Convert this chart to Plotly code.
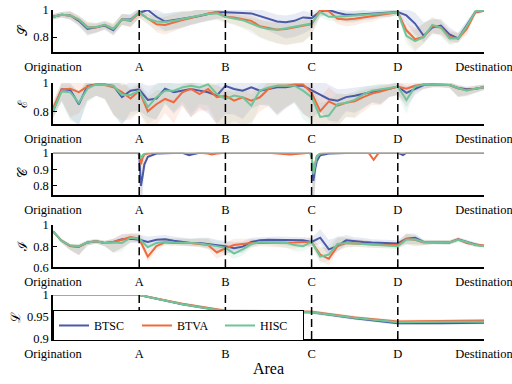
import plotly.graph_objects as go

# ---------------- data ----------------
TICK_POS = [0, 1, 2, 3, 4, 5]
TICK_TEXT = ["Origination", "A", "B", "C", "D", "Destination"]
MARKERS = [1, 2, 3, 4]  # dashed reference positions (A..D)
SERIES = ["BTSC", "BTVA", "HISC"]

X = [0.0, 0.1, 0.2, 0.3, 0.4, 0.5, 0.6, 0.7, 0.8, 0.9,
     1.0, 1.1, 1.2, 1.3, 1.4, 1.5, 1.6, 1.7, 1.8, 1.9,
     2.0, 2.1, 2.2, 2.3, 2.4, 2.5, 2.6, 2.7, 2.8, 2.9,
     3.0, 3.1, 3.2, 3.3, 3.4, 3.5, 3.6, 3.7, 3.8, 3.9,
     4.0, 4.1, 4.2, 4.3, 4.4, 4.5, 4.6, 4.7, 4.8, 4.9, 5.0]

# S panel
S_BTSC = [0.95, 0.965, 0.96, 0.92, 0.86, 0.87, 0.885, 0.85, 0.93, 0.93,
          0.98, 1.0, 0.95, 0.915, 0.925, 0.93, 0.94, 0.955, 0.97, 0.983,
          0.983, 0.983, 0.978, 0.975, 0.955, 0.935, 0.915, 0.91, 0.92, 0.945,
          0.94, 0.99, 1.0, 0.98, 0.965, 0.965, 0.97, 0.975, 0.978, 0.98,
          0.985, 0.96, 0.9, 0.81, 0.87, 0.885, 0.82, 0.79, 0.89, 0.985, 0.995]
S_BTVA = [0.95, 0.965, 0.96, 0.93, 0.875, 0.87, 0.89, 0.86, 0.93, 0.92,
          0.98, 0.94, 0.895, 0.89, 0.91, 0.925, 0.94, 0.96, 0.975, 0.985,
          0.95, 0.945, 0.935, 0.92, 0.88, 0.865, 0.855, 0.86, 0.87, 0.88,
          0.895, 1.0, 0.99, 0.935, 0.93, 0.935, 0.945, 0.955, 0.965, 0.975,
          0.983, 0.85, 0.785, 0.8, 0.88, 0.87, 0.80, 0.79, 0.86, 0.985, 0.995]
S_HISC = [0.95, 0.965, 0.96, 0.93, 0.87, 0.875, 0.89, 0.86, 0.93, 0.925,
          0.985, 0.935, 0.915, 0.912, 0.92, 0.935, 0.945, 0.96, 0.97, 0.975,
          0.95, 0.94, 0.925, 0.9, 0.875, 0.86, 0.855, 0.865, 0.875, 0.885,
          0.9, 0.985, 0.95, 0.95, 0.955, 0.96, 0.965, 0.97, 0.975, 0.98,
          0.983, 0.81, 0.77, 0.80, 0.89, 0.87, 0.79, 0.79, 0.88, 0.99, 0.997]
S_LO = [0.02, 0.02, 0.03, 0.04, 0.05, 0.04, 0.03, 0.04, 0.04, 0.05,
        0.04, 0.04, 0.06, 0.07, 0.07, 0.06, 0.05, 0.05, 0.05, 0.05,
        0.04, 0.05, 0.06, 0.07, 0.08, 0.09, 0.1, 0.12, 0.12, 0.12,
        0.08, 0.04, 0.03, 0.04, 0.05, 0.05, 0.04, 0.04, 0.03, 0.03,
        0.02, 0.06, 0.08, 0.05, 0.05, 0.06, 0.05, 0.03, 0.04, 0.02, 0.01]
S_HI = [0.02, 0.02, 0.03, 0.03, 0.04, 0.03, 0.03, 0.04, 0.04, 0.04,
        0.03, 0.03, 0.05, 0.06, 0.06, 0.06, 0.05, 0.05, 0.04, 0.03,
        0.03, 0.03, 0.03, 0.04, 0.05, 0.05, 0.05, 0.05, 0.05, 0.05,
        0.04, 0.02, 0.02, 0.03, 0.03, 0.03, 0.03, 0.02, 0.02, 0.02,
        0.02, 0.05, 0.08, 0.1, 0.06, 0.05, 0.05, 0.04, 0.03, 0.02, 0.01]

# E panel
E_BTSC = [0.80, 0.955, 0.95, 0.85, 0.98, 0.99, 0.99, 0.98, 0.9, 0.945,
          0.955, 0.88, 0.89, 0.96, 0.935, 0.946, 0.958, 0.946, 0.934, 0.911,
          0.98, 0.958, 0.946, 0.969, 0.946, 0.958, 0.969, 0.969, 0.981, 0.981,
          0.95, 0.92, 0.885, 0.875, 0.9, 0.91, 0.925, 0.94, 0.95, 0.96,
          0.975, 0.93, 0.955, 0.985, 0.99, 0.99, 0.985, 0.965, 0.955, 0.96, 0.97]
E_BTVA = [0.82, 0.955, 0.96, 0.935, 0.975, 0.99, 0.985, 0.97, 0.935, 0.89,
          0.945, 0.80, 0.85, 0.887, 0.864, 0.934, 0.958, 0.922, 0.958, 0.9,
          0.91, 0.875, 0.899, 0.875, 0.899, 0.958, 0.981, 0.981, 0.99, 0.99,
          0.93, 0.8, 0.87, 0.84, 0.86, 0.87, 0.9, 0.925, 0.94, 0.96,
          0.975, 0.96, 0.98, 0.99, 0.99, 0.99, 0.985, 0.96, 0.95, 0.96, 0.97]
E_HISC = [0.80, 0.94, 0.935, 0.86, 0.96, 0.99, 0.985, 0.98, 0.915, 0.915,
          0.945, 0.83, 0.9, 0.946, 0.946, 0.969, 0.981, 0.969, 0.99, 0.922,
          0.887, 0.911, 0.899, 0.84, 0.946, 0.969, 0.981, 0.981, 0.981, 0.946,
          0.90, 0.76, 0.77, 0.85, 0.86, 0.88, 0.92, 0.945, 0.955, 0.965,
          0.975, 0.88, 0.975, 0.99, 0.99, 0.99, 0.985, 0.965, 0.945, 0.96, 0.97]
E_LO = [0.05, 0.08, 0.2, 0.15, 0.1, 0.08, 0.1, 0.2, 0.2, 0.15,
        0.15, 0.12, 0.15, 0.1, 0.15, 0.1, 0.2, 0.12, 0.15, 0.2,
        0.2, 0.18, 0.2, 0.15, 0.1, 0.12, 0.2, 0.15, 0.12, 0.2,
        0.2, 0.12, 0.15, 0.15, 0.1, 0.12, 0.1, 0.08, 0.1, 0.06,
        0.06, 0.1, 0.04, 0.03, 0.02, 0.02, 0.02, 0.06, 0.04, 0.03, 0.02]
E_HI = [0.05, 0.05, 0.05, 0.08, 0.05, 0.05, 0.05, 0.05, 0.08, 0.06,
        0.05, 0.1, 0.1, 0.06, 0.06, 0.05, 0.05, 0.05, 0.05, 0.08,
        0.05, 0.06, 0.06, 0.08, 0.05, 0.05, 0.05, 0.05, 0.05, 0.05,
        0.06, 0.1, 0.1, 0.08, 0.06, 0.06, 0.05, 0.04, 0.04, 0.03,
        0.03, 0.05, 0.03, 0.02, 0.02, 0.02, 0.02, 0.02, 0.02, 0.02, 0.02]

# C panel (finer sampling near the sharp drops)
CX = [0.0, 0.5, 0.98, 1.0, 1.02, 1.04, 1.06, 1.1, 1.2, 1.5, 1.58, 1.62,
      1.7, 1.8, 1.84, 1.9, 2.0, 2.5, 2.75, 2.98, 3.0, 3.02, 3.04, 3.06,
      3.1, 3.2, 3.5, 3.66, 3.72, 3.78, 4.0, 4.06, 4.1, 4.5, 5.0]
C_BTSC = [1, 1, 1, 0.99, 0.80, 0.86, 0.93, 0.975, 0.995, 1, 0.985, 0.99,
          1, 1, 0.995, 1, 1, 1, 1, 1, 0.99, 0.83, 0.90, 0.95,
          0.985, 0.995, 1, 1, 1, 1, 1, 0.985, 1, 1, 1]
C_BTVA = [1, 1, 1, 0.99, 0.93, 0.97, 0.99, 0.995, 1, 1, 1, 1,
          1, 0.995, 0.99, 0.995, 1, 1, 0.99, 1, 0.98, 0.88, 0.94, 0.98,
          0.995, 1, 1, 1, 0.957, 1, 1, 1, 1, 1, 1]
C_HISC = [1, 1, 1, 0.995, 0.965, 0.985, 0.995, 1, 1, 1, 1, 1,
          1, 1, 1, 1, 1, 1, 1, 1, 0.98, 0.87, 0.93, 0.975,
          0.995, 1, 1, 1, 1, 1, 1, 1, 1, 1, 1]
C_LO = [0.003, 0.003, 0.003, 0.01, 0.25, 0.12, 0.04, 0.01, 0.005, 0.003, 0.005, 0.005,
        0.003, 0.005, 0.005, 0.005, 0.003, 0.003, 0.005, 0.003, 0.02, 0.25, 0.12, 0.04,
        0.01, 0.005, 0.003, 0.003, 0.01, 0.003, 0.003, 0.005, 0.003, 0.003, 0.003]
C_HI = [0.003] * 35

# I panel
I_BTSC = [0.94, 0.85, 0.8, 0.795, 0.835, 0.845, 0.83, 0.84, 0.865, 0.87,
          0.86, 0.84, 0.86, 0.865, 0.85, 0.84, 0.83, 0.83, 0.82, 0.81,
          0.80, 0.78, 0.795, 0.84, 0.855, 0.86, 0.86, 0.858, 0.858, 0.855,
          0.84, 0.88, 0.77, 0.80, 0.855, 0.845, 0.84, 0.835, 0.83, 0.83,
          0.826, 0.87, 0.88, 0.84, 0.84, 0.835, 0.835, 0.865, 0.84, 0.815, 0.80]
I_BTVA = [0.94, 0.85, 0.8, 0.795, 0.835, 0.845, 0.83, 0.84, 0.86, 0.885,
          0.87, 0.70, 0.8, 0.835, 0.83, 0.83, 0.83, 0.82, 0.81, 0.74,
          0.78, 0.81, 0.82, 0.83, 0.83, 0.83, 0.83, 0.835, 0.835, 0.84,
          0.84, 0.72, 0.68, 0.8, 0.83, 0.825, 0.82, 0.815, 0.81, 0.81,
          0.81, 0.87, 0.86, 0.835, 0.835, 0.835, 0.835, 0.865, 0.83, 0.815, 0.805]
I_HISC = [0.94, 0.85, 0.805, 0.80, 0.835, 0.845, 0.83, 0.835, 0.83, 0.88,
          0.87, 0.79, 0.83, 0.84, 0.835, 0.835, 0.83, 0.825, 0.815, 0.8,
          0.785, 0.73, 0.77, 0.82, 0.84, 0.84, 0.84, 0.835, 0.81, 0.8,
          0.84, 0.70, 0.72, 0.82, 0.83, 0.825, 0.82, 0.815, 0.81, 0.805,
          0.80, 0.86, 0.865, 0.84, 0.838, 0.835, 0.835, 0.86, 0.84, 0.81, 0.80]
I_LO = [0.01, 0.02, 0.04, 0.08, 0.03, 0.02, 0.03, 0.1, 0.08, 0.04,
        0.03, 0.05, 0.04, 0.03, 0.03, 0.03, 0.03, 0.03, 0.04, 0.06,
        0.06, 0.05, 0.06, 0.04, 0.03, 0.03, 0.04, 0.05, 0.06, 0.05,
        0.04, 0.06, 0.06, 0.05, 0.04, 0.03, 0.03, 0.03, 0.03, 0.03,
        0.03, 0.05, 0.06, 0.03, 0.02, 0.02, 0.02, 0.02, 0.02, 0.02, 0.01]
I_HI = [0.01, 0.02, 0.02, 0.02, 0.02, 0.02, 0.02, 0.03, 0.05, 0.04,
        0.05, 0.05, 0.04, 0.04, 0.04, 0.04, 0.04, 0.05, 0.06, 0.05,
        0.05, 0.06, 0.05, 0.04, 0.03, 0.03, 0.03, 0.03, 0.03, 0.03,
        0.04, 0.08, 0.09, 0.08, 0.05, 0.04, 0.04, 0.03, 0.03, 0.03,
        0.03, 0.05, 0.04, 0.02, 0.02, 0.02, 0.02, 0.02, 0.02, 0.02, 0.01]

# L panel
LX = [0.0, 0.5, 1.0, 1.5, 2.0, 2.5, 3.0, 3.5, 4.0, 4.5, 5.0]
L_BTSC = [1, 1, 1, 0.979, 0.963, 0.962, 0.961, 0.947, 0.936, 0.936, 0.937]
L_BTVA = [1, 1, 1, 0.98, 0.964, 0.963, 0.962, 0.949, 0.94, 0.941, 0.942]
L_HISC = [1, 1, 1, 0.979, 0.963, 0.962, 0.961, 0.948, 0.938, 0.939, 0.939]
L_LO = [0.0005, 0.0005, 0.001, 0.003, 0.004, 0.004, 0.004, 0.004, 0.004, 0.004, 0.004]
L_HI = L_LO

# ---------------- styling ----------------
LINE_COLORS = ["#4a5aa8", "#ef6a3c", "#70c49a"]
BAND_COLORS = ["rgba(74,90,168,0.12)", "rgba(239,106,60,0.12)", "rgba(112,196,154,0.12)"]
FONT = "Liberation Serif"
MATHFONT = "DejaVu Serif"

panels = [
    dict(x=X, ys=[S_BTSC, S_BTVA, S_HISC], lo=S_LO, hi=S_HI, label="𝒮",
         rng=[0.69, 1.0], tv=[0.8, 1.0], tt=["0.8", "1"], dom=[0.8697, 0.997]),
    dict(x=X, ys=[E_BTSC, E_BTVA, E_HISC], lo=E_LO, hi=E_HI, label="ℰ",
         rng=[0.71, 1.0], tv=[0.8, 1.0], tt=["0.8", "1"], dom=[0.6515, 0.7758]),
    dict(x=CX, ys=[C_BTSC, C_BTVA, C_HISC], lo=C_LO, hi=C_HI, label="𝒞",
         rng=[0.745, 1.0], tv=[0.8, 0.9, 1.0], tt=["0.8", "0.9", "1"], dom=[0.4364, 0.5645]),
    dict(x=X, ys=[I_BTSC, I_BTVA, I_HISC], lo=I_LO, hi=I_HI, label="ℐ",
         rng=[0.6, 1.0], tv=[0.6, 0.8, 1.0], tt=["0.6", "0.8", "1"], dom=[0.2173, 0.3455]),
    dict(x=LX, ys=[L_BTSC, L_BTVA, L_HISC], lo=L_LO, hi=L_HI, label="ℒ",
         rng=[0.9, 1.0], tv=[0.9, 0.95, 1.0], tt=["0.9", "0.95", "1"], dom=[0.0, 0.1333]),
]

fig = go.Figure()
shapes = []
layout_axes = {}
for i, p in enumerate(panels):
    n = i + 1
    xa = "x" if n == 1 else f"x{n}"
    ya = "y" if n == 1 else f"y{n}"
    for k in range(3):
        vals = p["ys"][k]
        up = [v + h for v, h in zip(vals, p["hi"])]
        dn = [v - l for v, l in zip(vals, p["lo"])]
        fig.add_trace(go.Scatter(
            x=list(p["x"]) + list(p["x"])[::-1], y=up + dn[::-1],
            fill="toself", fillcolor=BAND_COLORS[k], line=dict(width=0),
            mode="lines", hoverinfo="skip", showlegend=False, xaxis=xa, yaxis=ya))
    for k in range(3):
        fig.add_trace(go.Scatter(
            x=p["x"], y=p["ys"][k], mode="lines", name=SERIES[k],
            line=dict(color=LINE_COLORS[k], width=2),
            showlegend=(n == 5), xaxis=xa, yaxis=ya))
    for m in MARKERS:
        shapes.append(dict(type="line", xref=xa, yref=f"{ya} domain",
                           x0=m, x1=m, y0=0, y1=1,
                           line=dict(color="black", width=1.5, dash="8px,4px")))
    axkey = "xaxis" if n == 1 else f"xaxis{n}"
    aykey = "yaxis" if n == 1 else f"yaxis{n}"
    layout_axes[axkey] = dict(
        domain=[0, 1], range=[0, 5], anchor=ya, tickvals=TICK_POS, ticktext=TICK_TEXT,
        ticks="inside", ticklen=4, tickwidth=1, tickcolor="black", automargin=False,
        ticklabeloverflow="allow", ticklabelstandoff=2,
        showline=True, linecolor="black", linewidth=1.5, showgrid=False, zeroline=False,
        tickfont=dict(family=FONT, size=12.5, color="black"),
        title=dict(text="Area", font=dict(family=FONT, size=16, color="black"), standoff=3) if n == 5 else None,
    )
    layout_axes[aykey] = dict(
        domain=p["dom"], range=p["rng"], anchor=xa, tickvals=p["tv"], ticktext=p["tt"],
        ticks="inside", ticklen=4, tickwidth=1, tickcolor="black", automargin=False,
        ticklabeloverflow="allow",
        showline=True, linecolor="black", linewidth=1.5, showgrid=False, zeroline=False,
        tickfont=dict(family=FONT, size=12.5, color="black"),
        title=dict(text=p["label"], font=dict(family=MATHFONT, size=13, color="black"), standoff=3),
    )

fig.update_layout(
    width=512, height=384,
    margin=dict(l=53, r=28, t=9, b=45, autoexpand=False),
    paper_bgcolor="white", plot_bgcolor="white",
    font=dict(family=FONT, color="black"),
    shapes=shapes,
    showlegend=True,
    legend=dict(orientation="h", x=0, xanchor="left", y=-0.006, yanchor="bottom",
                bgcolor="white", bordercolor="black", borderwidth=1,
                font=dict(family=FONT, size=12, color="black"),
                itemwidth=30, entrywidth=38, entrywidthmode="pixels", tracegroupgap=0),
    **layout_axes,
)

fig.write_html("out.html", config={"displayModeBar": False},
               post_script="document.body.style.margin='0px';document.body.style.padding='0px';")
